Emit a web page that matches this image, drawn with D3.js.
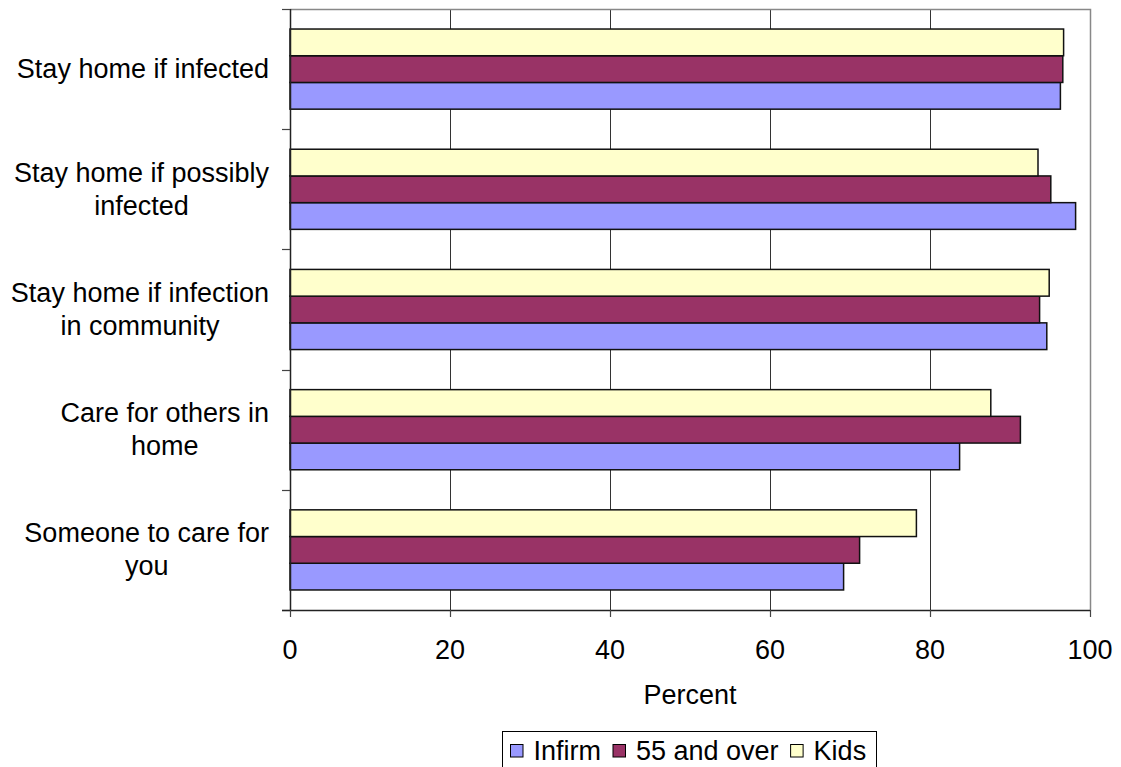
<!DOCTYPE html>
<html><head><meta charset="utf-8">
<script src="https://cdn.jsdelivr.net/npm/d3@7"></script>
<style>
html,body{margin:0;padding:0;background:#fff;overflow:hidden}
text{font-family:"Liberation Sans",Arial,sans-serif;fill:#000}
</style></head>
<body>
<svg id="chart" width="1121" height="767"></svg>
<script>
const categories = [
  ["Stay home if infected"],
  ["Stay home if possibly", "infected"],
  ["Stay home if infection", "in community"],
  ["Care for others in", "home"],
  ["Someone to care for", "you"]
];
const seriesNames = ["Infirm", "55 and over", "Kids"];
const infirm = [96.3, 98.2, 94.6, 83.7, 69.2];
const over55 = [96.6, 95.1, 93.7, 91.3, 71.2];
const kids   = [96.7, 93.5, 94.9, 87.6, 78.3];
const colors = ["#9999FF", "#993366", "#FFFFCC"];
const xTicks = [0, 20, 40, 60, 80, 100];
const xTitle = "Percent";

const seriesValues = [infirm, over55, kids];
const catKeys = categories.map(c => c.join(" "));

const svg = d3.select("#chart");
svg.append("rect").attr("width",1121).attr("height",767).attr("fill","#fff");

const L = 290, R = 1090, T = 9, B = 610;
const x = d3.scaleLinear().domain([0,100]).range([L,R]);
const y0 = d3.scaleBand().domain(catKeys).range([T,B]);
const bw = y0.bandwidth();
// top-to-bottom order within a category: Kids, 55 and over, Infirm
const y1 = d3.scaleBand().domain([2,1,0]).range([bw/6, bw - bw/6]);

// gridlines
svg.append("g").selectAll("line").data(xTicks.filter(t => t>0 && t<100)).join("line")
  .attr("x1", d => Math.round(x(d))+0.5).attr("x2", d => Math.round(x(d))+0.5)
  .attr("y1", T).attr("y2", B).attr("stroke","#333").attr("stroke-width",1);

// plot border (top, right)
svg.append("path").attr("d", `M${L},${T+0.5}H${R+0.5}V${B}`)
  .attr("fill","none").attr("stroke","#888").attr("stroke-width",1.5);

// bars
const groups = svg.append("g").selectAll("g").data(catKeys).join("g")
  .attr("transform", d => `translate(0,${y0(d)})`);
groups.each(function(k, ci){
  d3.select(this).selectAll("rect").data([0,1,2]).join("rect")
    .attr("x", x(0))
    .attr("y", s => y1(s))
    .attr("width", s => x(seriesValues[s][ci]) - x(0))
    .attr("height", y1.bandwidth())
    .attr("fill", s => colors[s])
    .attr("stroke", "#111").attr("stroke-width", 1.5);
});

// y axis line and ticks
const yBounds = catKeys.map(k => y0(k)).concat([B]);
svg.append("line").attr("x1",L+0.5).attr("x2",L+0.5).attr("y1",T).attr("y2",B)
  .attr("stroke","#222").attr("stroke-width",1.5);
svg.append("g").selectAll("line").data(yBounds).join("line")
  .attr("x1", L-8).attr("x2", L).attr("y1", d => Math.round(d)+0.5).attr("y2", d => Math.round(d)+0.5)
  .attr("stroke","#444").attr("stroke-width",1.2);

// x axis line and ticks
svg.append("line").attr("x1",L-8).attr("x2",R).attr("y1",B+0.5).attr("y2",B+0.5)
  .attr("stroke","#222").attr("stroke-width",1.5);
svg.append("g").selectAll("line").data(xTicks).join("line")
  .attr("x1", d => Math.round(x(d))+0.5).attr("x2", d => Math.round(x(d))+0.5)
  .attr("y1", B).attr("y2", B+7).attr("stroke","#444").attr("stroke-width",1.2);

// x tick labels
svg.append("g").selectAll("text").data(xTicks).join("text")
  .attr("x", d => x(d)).attr("y", 659).attr("text-anchor","middle")
  .attr("font-size", 27).text(d => d);

// x title
svg.append("text").attr("x", (L+R)/2).attr("y", 704).attr("text-anchor","middle")
  .attr("font-size", 27).text(xTitle);

// category labels (block right-aligned, lines centred within block)
const labG = svg.append("g");
categories.forEach((lines, ci) => {
  const center = y0(catKeys[ci]) + bw/2;
  const g = labG.append("g");
  const texts = lines.map((ln, i) => g.append("text")
    .attr("font-size", 27).attr("text-anchor","middle")
    .attr("y", center + 9 + (i - (lines.length-1)/2) * 33)
    .text(ln));
  const maxW = d3.max(texts, t => t.node().getComputedTextLength());
  texts.forEach(t => t.attr("x", 269 - maxW/2));
});

// legend
const lg = svg.append("g");
lg.append("rect").attr("x",502.5).attr("y",731.5).attr("width",374).attr("height",45)
  .attr("fill","#fff").attr("stroke","#000").attr("stroke-width",1);
let cx = 510.5;
seriesNames.forEach((name, i) => {
  lg.append("rect").attr("x", cx).attr("y", 744.5).attr("width", 12.5).attr("height", 12.5)
    .attr("fill", colors[i]).attr("stroke","#000").attr("stroke-width",1);
  const t = lg.append("text").attr("x", cx + 23).attr("y", 760).attr("font-size", 27).text(name);
  cx = cx + 23 + t.node().getComputedTextLength() + 12;
});
</script>
</body></html>
